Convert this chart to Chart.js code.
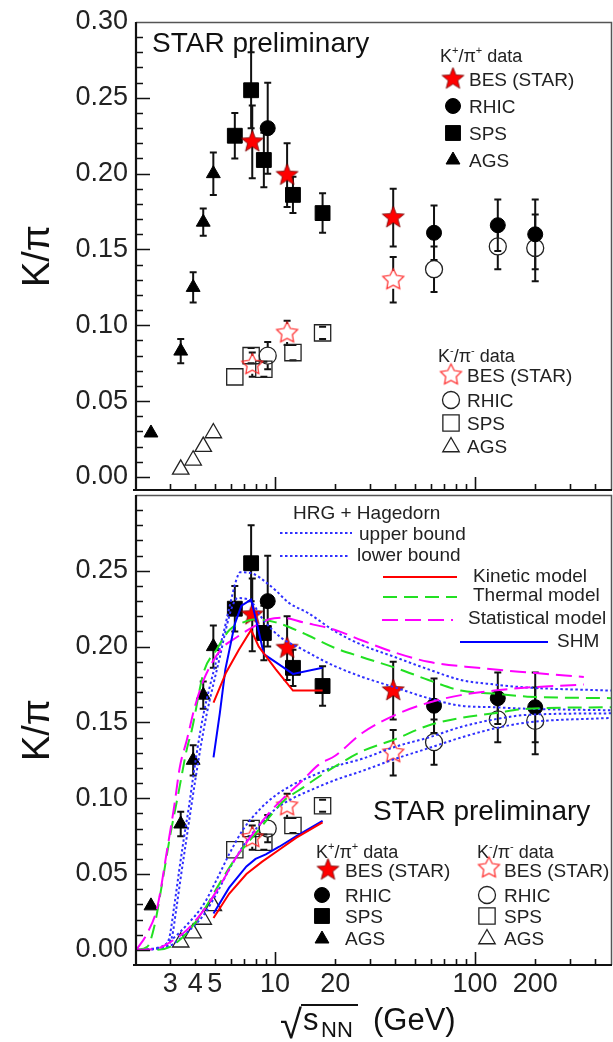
<!DOCTYPE html>
<html>
<head>
<meta charset="utf-8">
<title>K/pi ratio vs collision energy</title>
<script src="https://cdn.jsdelivr.net/npm/chart.js@4.4.1/dist/chart.umd.min.js"></script>
<style>
  html, body { margin: 0; padding: 0; background: #fff; }
  #wrap { position: relative; width: 613px; height: 1042px; overflow: hidden; background: #fff; }
  #topBox { position: absolute; left: 0; top: 0; width: 613px; height: 492px; }
  #botBox { position: absolute; left: 0; top: 492px; width: 613px; height: 550px; }
</style>
</head>
<body>
<div id="wrap">
  <div id="topBox"><canvas id="topCanvas"></canvas></div>
  <div id="botBox"><canvas id="botCanvas"></canvas></div>
</div>
<script>
// --- data: sqrt(s_NN) in GeV, K/pi ratio ---

// K+/pi+ (filled markers)
var besE = [7.7, 11.5, 39];
var besKp = [0.221, 0.199, 0.171];
var besKpErr = [0.024, 0.021, 0.019];
var rhicE = [9.2, 62.4, 130, 200];
var rhicKp = [0.230, 0.161, 0.166, 0.160];
var rhicKpErr = [0.030, 0.018, 0.017, 0.023];
var spsE = [6.3, 7.6, 8.8, 12.3, 17.3];
var spsKp = [0.225, 0.255, 0.209, 0.186, 0.174];
var spsKpErr = [0.015, 0.025, 0.018, 0.012, 0.013];
var agsKpE = [2.4, 3.38, 3.9, 4.38, 4.92];
var agsKp = [0.029, 0.083, 0.125, 0.168, 0.200];
var agsKpErr = [0, 0.008, 0.010, 0.009, 0.014];

// K-/pi- (open markers)
var besKm = [0.074, 0.095, 0.130];
var besKmErr = [0.008, 0.008, 0.015];
var rhicKm = [0.080, 0.137, 0.152, 0.151];
var rhicKmErr = [0.009, 0.015, 0.015, 0.022];
var spsKm = [0.066, 0.080, 0.071, 0.082, 0.095];
var spsKmErr = [0, 0.005, 0.005, 0.005, 0.004];
var agsKmE = [3.38, 3.9, 4.38, 4.92];
var agsKm = [0.005, 0.011, 0.020, 0.029];

// model curves, [energy, ratio]
var hrgUpperKp = [[2.03,0],[2.7,0.002],[2.95,0.007],[3.13,0.028],[3.31,0.051],[3.5,0.073],[3.71,0.094],[3.93,0.117],[4.16,0.138],[4.4,0.156],[4.71,0.173],[5.1,0.191],[5.53,0.209],[5.92,0.226],[6.41,0.244],[6.7,0.249],[7.8,0.248],[8.7,0.244],[10.1,0.237],[11.7,0.229],[14.7,0.222],[20,0.210],[27.3,0.201],[40,0.193],[58.5,0.185],[85,0.178],[125,0.175],[183,0.173],[480,0.171]];
var hrgLowerKp = [[2.03,0],[2.8,0.002],[3.05,0.008],[3.22,0.028],[3.4,0.05],[3.6,0.072],[3.8,0.093],[4.03,0.115],[4.28,0.136],[4.55,0.155],[4.88,0.173],[5.3,0.193],[5.7,0.212],[6.1,0.226],[6.5,0.232],[7.4,0.231],[8.7,0.218],[10.7,0.206],[13.8,0.198],[17.3,0.191],[20,0.187],[27.3,0.180],[40,0.173],[58.5,0.166],[85,0.161],[125,0.160],[183,0.159],[480,0.158]];
var hrgUpperKm = [[2.03,0],[2.6,0.001],[3.0,0.006],[3.6,0.016],[4.4,0.030],[5.1,0.046],[5.9,0.063],[6.9,0.079],[8.3,0.092],[10.1,0.102],[12.3,0.109],[15.5,0.115],[20,0.121],[27.3,0.126],[40,0.134],[58.5,0.140],[85,0.147],[125,0.152],[183,0.155],[480,0.156]];
var hrgLowerKm = [[2.03,0],[2.9,0.002],[3.6,0.011],[4.4,0.023],[5.1,0.037],[5.9,0.053],[6.9,0.068],[8.3,0.082],[10.1,0.093],[12.3,0.100],[15.5,0.106],[20,0.112],[27.3,0.118],[40,0.126],[58.5,0.133],[85,0.140],[125,0.146],[183,0.150],[480,0.153]];
var kineticKp = [[4.93,0.163],[5.7,0.183],[6.6,0.198],[7.6,0.211],[8.3,0.200],[10.1,0.185],[12.3,0.171],[17.3,0.171]];
var kineticKm = [[4.93,0.021],[5.9,0.037],[7.2,0.050],[8.6,0.058],[10.5,0.066],[12.8,0.074],[17.3,0.084]];
var thermalKp = [[2.03,0],[2.3,0.002],[2.49,0.015],[2.73,0.044],[2.99,0.075],[3.31,0.105],[3.62,0.132],[3.84,0.145],[4.4,0.183],[5.1,0.198],[5.92,0.211],[6.94,0.216],[8.05,0.218],[10.1,0.216],[13.8,0.209],[20,0.199],[27.3,0.193],[40,0.186],[58.5,0.178],[85,0.171],[125,0.169],[183,0.167],[480,0.166]];
var thermalKm = [[2.03,0],[2.5,0],[2.99,0.002],[3.62,0.011],[4.4,0.026],[5.3,0.044],[6.4,0.061],[7.8,0.075],[9.3,0.087],[11,0.098],[13.8,0.107],[16.5,0.114],[20,0.121],[27.3,0.131],[40,0.139],[58.5,0.148],[85,0.153],[125,0.156],[183,0.159],[480,0.160]];
var statKp = [[2.03,0],[2.3,0.011],[2.58,0.028],[2.89,0.066],[3.13,0.094],[3.35,0.121],[3.62,0.138],[3.97,0.160],[4.4,0.178],[4.93,0.191],[5.53,0.200],[6.41,0.206],[7.78,0.213],[9.34,0.218],[11,0.219],[13.8,0.216],[20,0.211],[27.3,0.204],[40,0.196],[58.5,0.190],[103,0.186],[183,0.183],[350,0.180]];
var statKm = [[2.03,0],[2.6,0.001],[2.99,0.005],[3.62,0.013],[4.4,0.026],[5.4,0.044],[6.4,0.061],[7.8,0.077],[9.3,0.090],[11.2,0.101],[13.8,0.112],[16.5,0.122],[20,0.128],[27.3,0.143],[40,0.155],[58.5,0.163],[85,0.168],[125,0.171],[183,0.173],[350,0.175]];
var shmKp = [[4.93,0.127],[5.3,0.156],[5.65,0.185],[6.3,0.215],[6.8,0.227],[7.6,0.231],[8.2,0.213],[8.8,0.195],[12.3,0.182],[17.3,0.186]];
var shmKm = [[4.93,0.024],[5.9,0.041],[7.2,0.055],[8.0,0.060],[9.0,0.063],[10.5,0.068],[12.8,0.075],[17.3,0.085]];

// ticks
var xTickValues = [3, 4, 5, 6, 7, 8, 9, 10, 20, 30, 40, 50, 60, 70, 80, 90, 100, 200, 300, 400];
var xTickLabels = [3, 4, 5, 10, 20, 100, 200];
var xMajorTicks = [10, 100];
var yLabelsTop = ['0.00', '0.05', '0.10', '0.15', '0.20', '0.25', '0.30'];
var yLabelsBottom = ['0.00', '0.05', '0.10', '0.15', '0.20', '0.25'];

var FONT = "'Liberation Sans', Arial, Helvetica, sans-serif";

var yTickValues = [];
for (var i = 0; i <= 30; i++) yTickValues.push(i / 100);

// star markers (ROOT style), drawn once into small canvases
function makeStar(outerR, innerR, fill, stroke, lw) {
  var size = Math.ceil(outerR * 2 + lw * 2 + 2);
  var c = document.createElement('canvas');
  c.width = size; c.height = size;
  var g = c.getContext('2d');
  var cx = size / 2, cy = size / 2;
  g.beginPath();
  for (var k = 0; k < 10; k++) {
    var r = k % 2 === 0 ? outerR : innerR;
    var a = -Math.PI / 2 + k * Math.PI / 5;
    if (k === 0) g.moveTo(cx + r * Math.cos(a), cy + r * Math.sin(a));
    else g.lineTo(cx + r * Math.cos(a), cy + r * Math.sin(a));
  }
  g.closePath();
  if (fill) { g.fillStyle = fill; g.fill(); }
  g.lineWidth = lw; g.strokeStyle = stroke; g.stroke();
  return c;
}
var starFilled = makeStar(11.5, 5, '#ff0000', '#700000', 0.8);
var starOpen = makeStar(11, 5.5, null, '#ff2a2a', 1.2);

var MARK = {
  starFill:  { img: starFilled, r: 10 },
  circFill:  { shape: 'circle', r: 7.5, fill: '#000', stroke: '#000', lw: 1 },
  rectFill:  { shape: 'rect', r: 10.5, fill: '#000', stroke: '#000', lw: 1 },
  triFill:   { shape: 'triangle', r: 8, fill: '#000', stroke: '#000', lw: 1 },
  starOpen:  { img: starOpen, r: 10 },
  circOpen:  { shape: 'circle', r: 8.5, fill: null, stroke: '#222', lw: 1.3 },
  rectOpen:  { shape: 'rect', r: 11.5, fill: null, stroke: '#222', lw: 1.3 },
  triOpen:   { shape: 'triangle', r: 9.5, fill: null, stroke: '#222', lw: 1.3 }
};

function pts(xs, ys) {
  return xs.map(function (x, k) { return { x: x, y: ys[k] }; });
}
function curvePts(arr) {
  return arr.map(function (p) { return { x: p[0], y: p[1] }; });
}

function markerSet(label, xs, ys, errs, m, gap) {
  return {
    label: label,
    data: pts(xs, ys),
    showLine: false,
    pointStyle: m.img || m.shape,
    pointRadius: m.r,
    pointBackgroundColor: m.fill || 'rgba(0,0,0,0)',
    pointBorderColor: m.stroke || 'rgba(0,0,0,0)',
    pointBorderWidth: m.img ? 0 : m.lw,
    errs: errs,
    gap: gap
  };
}

function markerDatasets() {
  return [
    markerSet('BES (STAR) K+/pi+', besE, besKp, besKpErr, MARK.starFill, 0),
    markerSet('RHIC K+/pi+', rhicE, rhicKp, rhicKpErr, MARK.circFill, 0),
    markerSet('SPS K+/pi+', spsE, spsKp, spsKpErr, MARK.rectFill, 0),
    markerSet('AGS K+/pi+', agsKpE, agsKp, agsKpErr, MARK.triFill, 0),
    markerSet('BES (STAR) K-/pi-', besE, besKm, besKmErr, MARK.starOpen, 9),
    markerSet('RHIC K-/pi-', rhicE, rhicKm, rhicKmErr, MARK.circOpen, 8.5),
    markerSet('SPS K-/pi-', spsE, spsKm, spsKmErr, MARK.rectOpen, 8),
    markerSet('AGS K-/pi-', agsKmE, agsKm, null, MARK.triOpen, 0)
  ];
}

function curve(label, arr, color, dash, smooth) {
  return {
    label: label,
    data: curvePts(arr),
    showLine: true,
    borderColor: color,
    backgroundColor: color,
    borderWidth: 2,
    borderDash: dash,
    pointRadius: 0,
    cubicInterpolationMode: smooth ? 'monotone' : 'default',
    tension: 0
  };
}

var C_DOT = '#2f2fff', C_RED = '#ff0000', C_GREEN = '#22e022', C_MAG = '#ff00ff', C_BLUE = '#0000ff';
var D_DOT = [2.5, 2.5], D_GREEN = [14, 7], D_MAG = [16, 7];

function curveDatasets() {
  return [
    curve('Kinetic K+', kineticKp, C_RED, [], false),
    curve('Kinetic K-', kineticKm, C_RED, [], false),
    curve('SHM K+', shmKp, C_BLUE, [], false),
    curve('SHM K-', shmKm, C_BLUE, [], false),
    curve('Statistical K+', statKp, C_MAG, D_MAG, true),
    curve('Statistical K-', statKm, C_MAG, D_MAG, true),
    curve('Thermal K+', thermalKp, C_GREEN, D_GREEN, true),
    curve('Thermal K-', thermalKm, C_GREEN, D_GREEN, true),
    curve('HRG upper K+', hrgUpperKp, C_DOT, D_DOT, true),
    curve('HRG lower K+', hrgLowerKp, C_DOT, D_DOT, true),
    curve('HRG upper K-', hrgUpperKm, C_DOT, D_DOT, true),
    curve('HRG lower K-', hrgLowerKm, C_DOT, D_DOT, true)
  ];
}

// error bars with end caps, drawn below the markers
var errorBarPlugin = {
  id: 'errorBars',
  beforeDatasetsDraw: function (chart) {
    var ctx = chart.ctx, xs = chart.scales.x, ys = chart.scales.y;
    ctx.save();
    ctx.strokeStyle = '#111';
    ctx.lineWidth = 2;
    chart.data.datasets.forEach(function (ds) {
      if (!ds.errs) return;
      ds.data.forEach(function (p, k) {
        var e = ds.errs[k];
        if (!e) return;
        var px = xs.getPixelForValue(p.x);
        var pc = ys.getPixelForValue(p.y);
        var pt = ys.getPixelForValue(p.y + e);
        var pb = ys.getPixelForValue(p.y - e);
        ctx.beginPath();
        if (pc - ds.gap > pt) { ctx.moveTo(px, pt); ctx.lineTo(px, pc - ds.gap); }
        if (pc + ds.gap < pb) { ctx.moveTo(px, pc + ds.gap); ctx.lineTo(px, pb); }
        ctx.moveTo(px - 3.5, pt); ctx.lineTo(px + 3.5, pt);
        ctx.moveTo(px - 3.5, pb); ctx.lineTo(px + 3.5, pb);
        ctx.stroke();
      });
    });
    ctx.restore();
  }
};

// frame and inward tick marks
var framePlugin = {
  id: 'frame',
  afterDatasetsDraw: function (chart) {
    var ctx = chart.ctx, a = chart.chartArea, xs = chart.scales.x, ys = chart.scales.y;
    ctx.save();
    ctx.strokeStyle = '#111';
    ctx.lineWidth = 1.6;
    ctx.beginPath();
    xs.ticks.forEach(function (t) {
      var px = Math.round(xs.getPixelForValue(t.value)) + 0.5;
      var len = xMajorTicks.indexOf(t.value) >= 0 ? 13 : 6;
      ctx.moveTo(px, a.bottom); ctx.lineTo(px, a.bottom - len);
    });
    ys.ticks.forEach(function (t) {
      var py = Math.round(ys.getPixelForValue(t.value)) + 0.5;
      if (py < a.top + 1) return;
      var len = Math.round(t.value * 100) % 5 === 0 ? 14 : 7;
      ctx.moveTo(a.left, py); ctx.lineTo(a.left + len, py);
    });
    ctx.stroke();
    ctx.lineWidth = 1.5;
    ctx.strokeStyle = '#555';
    ctx.beginPath();
    ctx.moveTo(a.left, a.top + 0.5); ctx.lineTo(a.right - 0.5, a.top + 0.5); ctx.lineTo(a.right - 0.5, a.bottom);
    ctx.stroke();
    ctx.lineWidth = 2.2;
    ctx.strokeStyle = '#111';
    ctx.beginPath();
    ctx.moveTo(a.left - 3, a.bottom); ctx.lineTo(a.right, a.bottom);
    ctx.moveTo(a.left, a.top); ctx.lineTo(a.left, a.bottom + 1);
    ctx.stroke();
    ctx.restore();
  }
};

function drawMark(ctx, m, x, y) {
  if (m.img) { ctx.drawImage(m.img, x - m.img.width / 2, y - m.img.height / 2); return; }
  ctx.save();
  ctx.lineWidth = m.lw;
  ctx.strokeStyle = m.stroke;
  ctx.beginPath();
  var r = m.r;
  if (m.shape === 'circle') {
    ctx.arc(x, y, r, 0, Math.PI * 2);
  } else if (m.shape === 'rect') {
    var h = r * Math.SQRT1_2;
    ctx.rect(x - h, y - h, 2 * h, 2 * h);
  } else {
    ctx.moveTo(x, y - r);
    ctx.lineTo(x + r * Math.sin(2 * Math.PI / 3), y - r * Math.cos(2 * Math.PI / 3));
    ctx.lineTo(x + r * Math.sin(4 * Math.PI / 3), y - r * Math.cos(4 * Math.PI / 3));
    ctx.closePath();
  }
  if (m.fill) { ctx.fillStyle = m.fill; ctx.fill(); }
  ctx.stroke();
  ctx.restore();
}

function text(ctx, s, x, y, size) {
  ctx.font = size + 'px ' + FONT;
  ctx.fillText(s, x, y);
}

function header(ctx, x, y, sign) {
  var parts = [['K', 18, 0], [sign, 11, -8], ['/\u03c0', 18, 0], [sign, 11, -8], [' data', 18, 0]];
  parts.forEach(function (p) {
    ctx.font = p[1] + 'px ' + FONT;
    ctx.fillText(p[0], x, y + p[2]);
    x += ctx.measureText(p[0]).width;
  });
}

// legend block: header + 4 marker rows
function dataLegend(ctx, hx, hy, sign, marks, mx, tx, rowsY, textY) {
  header(ctx, hx, hy, sign);
  var names = ['BES (STAR)', 'RHIC', 'SPS', 'AGS'];
  marks.forEach(function (m, k) {
    drawMark(ctx, m, mx[k], rowsY[k]);
    text(ctx, names[k], tx, textY[k], 19);
  });
}

function sample(ctx, x0, x1, y, color, dash) {
  ctx.save();
  ctx.strokeStyle = color;
  ctx.lineWidth = 2;
  ctx.setLineDash(dash);
  ctx.beginPath(); ctx.moveTo(x0, y); ctx.lineTo(x1, y); ctx.stroke();
  ctx.restore();
}

function drawTopDecor(chart) {
  var ctx = chart.ctx;
  ctx.save();
  // the lower panel overlaps the bottom of the "0.00" label
  ctx.fillStyle = '#fff';
  ctx.fillRect(0, 484, 133, 8);
  ctx.fillStyle = '#111';
  ctx.textAlign = 'left';
  ctx.textBaseline = 'alphabetic';
  text(ctx, 'STAR preliminary', 152, 52, 28);
  ctx.fillStyle = '#222';
  dataLegend(ctx, 440, 62, '+', [MARK.starFill, MARK.circFill, MARK.rectFill, MARK.triFill],
    [453, 453, 453, 453], 469, [79, 106, 133, 160], [86, 113, 140, 167]);
  dataLegend(ctx, 438, 362, '-', [MARK.starOpen, MARK.circOpen, MARK.rectOpen, MARK.triOpen],
    [451, 451, 451, 451], 467, [375, 400, 423, 447], [382, 407, 430, 453]);
  ctx.restore();
}

function drawBottomDecor(chart) {
  var ctx = chart.ctx;
  ctx.save();
  ctx.textAlign = 'left';
  ctx.textBaseline = 'alphabetic';
  ctx.fillStyle = '#111';
  text(ctx, 'STAR preliminary', 373, 328, 28);
  ctx.fillStyle = '#222';
  dataLegend(ctx, 316, 366, '+', [MARK.starFill, MARK.circFill, MARK.rectFill, MARK.triFill],
    [328, 322, 322, 322], 345, [378, 403, 424, 447], [385, 410, 431, 453]);
  dataLegend(ctx, 477, 366, '-', [MARK.starOpen, MARK.circOpen, MARK.rectOpen, MARK.triOpen],
    [489, 487, 487, 487], 504, [376, 403, 424, 447], [385, 410, 431, 453]);

  // model legend
  text(ctx, 'HRG + Hagedorn', 293, 27, 19);
  sample(ctx, 280, 352, 41, C_DOT, D_DOT);
  text(ctx, 'upper bound', 359, 48, 19);
  sample(ctx, 280, 349, 64, C_DOT, D_DOT);
  text(ctx, 'lower bound', 357, 69, 19);
  sample(ctx, 383, 457, 85, C_RED, []);
  text(ctx, 'Kinetic model', 473, 90, 19);
  sample(ctx, 383, 457, 105, C_GREEN, D_GREEN);
  text(ctx, 'Thermal model', 473, 109, 19);
  sample(ctx, 382, 453, 128, C_MAG, D_MAG);
  text(ctx, 'Statistical model', 468, 132, 19);
  sample(ctx, 460, 548, 150, C_BLUE, []);
  text(ctx, 'SHM', 557, 155, 19);

  // x axis title: sqrt(s_NN) (GeV)
  ctx.fillStyle = '#111';
  text(ctx, '\u221a', 280, 546, 40);
  ctx.strokeStyle = '#111';
  ctx.lineWidth = 2;
  ctx.beginPath(); ctx.moveTo(301, 513); ctx.lineTo(358, 513); ctx.stroke();
  text(ctx, 's', 303, 538, 31);
  text(ctx, 'NN', 321, 545, 22);
  text(ctx, '(GeV)', 373, 538, 31);
  ctx.restore();
}

function panelOptions(yMin, yLabels, showX, pad) {
  return {
    responsive: true,
    maintainAspectRatio: false,
    animation: false,
    devicePixelRatio: 1,
    events: [],
    layout: { padding: pad, autoPadding: false },
    plugins: { legend: { display: false }, tooltip: { enabled: false } },
    scales: {
      x: {
        type: 'logarithmic',
        min: 2.02,
        max: 484,
        grid: { display: false, drawTicks: false },
        border: { display: false },
        afterBuildTicks: function (s) {
          s.ticks = xTickValues.map(function (v) { return { value: v }; });
        },
        ticks: {
          display: showX,
          autoSkip: false,
          maxRotation: 0,
          padding: 3,
          color: '#222',
          font: { family: FONT, size: 27 },
          callback: function (v) { return xTickLabels.indexOf(v) >= 0 ? String(v) : ''; }
        },
        afterFit: function (s) {
          s.height = showX ? 77 : 0;
          s.paddingLeft = 0; s.paddingRight = 0;
        }
      },
      y: {
        min: yMin,
        max: 0.30,
        grid: { display: false, drawTicks: false },
        border: { display: false },
        afterBuildTicks: function (s) {
          s.ticks = yTickValues.map(function (v) { return { value: v }; });
        },
        ticks: {
          autoSkip: false,
          padding: 8,
          color: '#222',
          font: { family: FONT, size: 27 },
          callback: function (v) {
            var lab = v.toFixed(2);
            return yLabels.indexOf(lab) >= 0 ? lab : '';
          }
        },
        title: {
          display: true,
          text: 'K/\u03c0',
          color: '#111',
          font: { family: FONT, size: 38 },
          padding: { top: 16, bottom: 0 }
        },
        afterFit: function (s) {
          s.width = 136;
          s.paddingTop = 0; s.paddingBottom = 0;
        }
      }
    }
  };
}

var topChart = new Chart(document.getElementById('topCanvas'), {
  type: 'scatter',
  data: { datasets: markerDatasets() },
  options: panelOptions(-0.0086, yLabelsTop, false, { left: 0, right: 1, top: 22, bottom: 2 }),
  plugins: [errorBarPlugin, framePlugin, { id: 'topDecor', afterDraw: drawTopDecor }]
});

var bottomChart = new Chart(document.getElementById('botCanvas'), {
  type: 'scatter',
  data: { datasets: curveDatasets().concat(markerDatasets()) },
  options: panelOptions(-0.01, yLabelsBottom, true, { left: 0, right: 1, top: 3, bottom: 0 }),
  plugins: [errorBarPlugin, framePlugin, { id: 'bottomDecor', afterDraw: drawBottomDecor }]
});
</script>
</body>
</html>
